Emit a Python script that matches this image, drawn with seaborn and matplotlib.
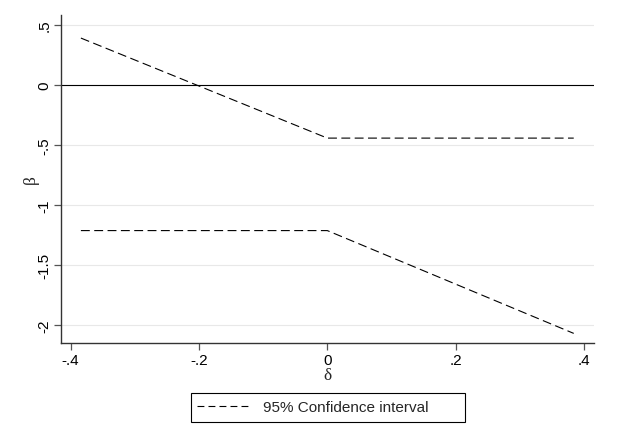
import matplotlib
matplotlib.use("Agg")
import matplotlib.pyplot as plt
from matplotlib.patches import Rectangle
import seaborn as sns
import pandas as pd

# Data
delta = [-0.384, 0.0, 0.384]
upper_ci = [0.389, -0.444, -0.444]
lower_ci = [-1.214, -1.214, -2.07]
x_ticks = [-0.4, -0.2, 0.0, 0.2, 0.4]
x_tick_labels = ["-.4", "-.2", "0", ".2", ".4"]
y_ticks = [-2.0, -1.5, -1.0, -0.5, 0.0, 0.5]
y_tick_labels = ["-2", "-1.5", "-1", "-.5", "0", ".5"]
legend_label = "95% Confidence interval"

df = pd.DataFrame({"delta": delta, "upper": upper_ci, "lower": lower_ci})

sns.set_style("white")
plt.rcParams["font.family"] = ["Liberation Sans", "DejaVu Sans"]

W, H = 621, 439
fig = plt.figure(figsize=(W / 100, H / 100), dpi=100)
fig.patch.set_facecolor("white")
ax = fig.add_axes([61 / W, 1 - 344 / H, (594 - 61) / W, (344 - 16) / H])

ax.set_xlim(-0.415, 0.4156)
ax.set_ylim(-2.15, 0.581)

# grid + zero line
for yv in y_ticks:
    ax.axhline(yv, color="#e8e8e8", lw=0.8, zorder=0)
ax.axhline(0, color="black", lw=0.8, zorder=1)

dash = (0, (8, 4))
sns.lineplot(data=df, x="delta", y="upper", ax=ax, color="black", lw=0.8,
             label=legend_label, sort=True, zorder=3)
sns.lineplot(data=df, x="delta", y="lower", ax=ax, color="black", lw=0.8,
             label="_nolegend_", sort=True, zorder=3)
for ln in ax.get_lines()[-2:]:
    ln.set_linestyle(dash)

ax.set_xticks(x_ticks)
ax.set_xticklabels(x_tick_labels)
ax.set_yticks(y_ticks)
ax.set_yticklabels(y_tick_labels, rotation=90, va="center")

for s in ["top", "right"]:
    ax.spines[s].set_visible(False)
for s in ["left", "bottom"]:
    ax.spines[s].set_color("#333333")
    ax.spines[s].set_linewidth(1.0)

ax.tick_params(axis="both", which="major", direction="out", length=5.0, width=0.9,
               color="#555555", labelsize=11, labelcolor="black", bottom=True, left=True)
ax.tick_params(axis="x", pad=2.5)
ax.tick_params(axis="y", pad=2.0)

ax.set_xlabel("δ", fontfamily="Liberation Serif", fontsize=12.5, labelpad=0)
ax.set_ylabel("β", fontfamily="Liberation Serif", fontsize=12.5, labelpad=-1)

handles, labels = ax.get_legend_handles_labels()
if ax.get_legend():
    ax.get_legend().remove()
leg = fig.legend(handles[:1], labels[:1], loc="center left",
                 bbox_to_anchor=(197 / W, 1 - 408.5 / H), bbox_transform=fig.transFigure,
                 frameon=False, fontsize=11, handlelength=3.6, borderpad=0,
                 handletextpad=0.75, borderaxespad=0)
for h in leg.get_lines():
    h.set_linestyle((0, (6.2, 3.7)))
    h.set_linewidth(0.8)

# legend frame (Stata-style box)
fig.patches.append(Rectangle((191 / W, 1 - 423 / H), (465 - 191) / W, (423 - 394) / H,
                             transform=fig.transFigure, fill=False, edgecolor="black",
                             linewidth=0.8, figure=fig))

fig.savefig("out.png", dpi=100, facecolor="white")
